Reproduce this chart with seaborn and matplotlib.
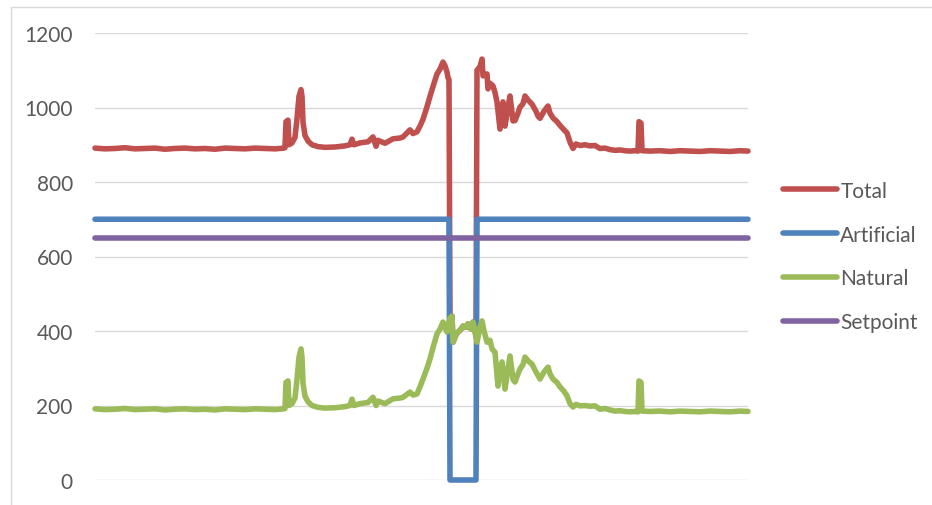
import pandas as pd
import matplotlib
matplotlib.use("Agg")
import matplotlib.pyplot as plt
import matplotlib.patches as patches
import seaborn as sns

# data (x = sample index)
natural_t = [0, 10, 20, 30, 40, 50, 60, 70, 80, 90, 100, 110, 120, 130, 140, 150, 160, 170, 180, 189,
             190, 191, 193, 194, 197, 200, 202, 204, 206, 207, 208, 210, 213, 217, 223, 230, 240, 250, 255, 257,
             259, 265, 273, 278, 281, 283, 290, 298, 305, 308, 315, 318, 322, 325, 328, 332, 335, 339, 342, 345,
             348, 350, 352, 355, 357, 358, 361, 363, 366, 368, 371, 373, 375, 377, 378, 380, 382, 385, 387, 389,
             392, 395, 397, 400, 403, 405, 407, 409, 410, 413, 415, 418, 420, 423, 425, 428, 430, 433, 437, 441,
             445, 449, 453, 455, 458, 462, 465, 469, 472, 475, 478, 481, 485, 490, 495, 500, 505, 510, 515, 520,
             525, 530, 535, 540, 543, 544, 546, 547, 555, 565, 575, 585, 595, 605, 615, 625, 635, 645, 653]
natural = [191, 189, 190, 192, 189, 190, 191, 188, 190, 191, 189, 190, 188, 191, 190, 189, 191, 190, 189, 191,
           192, 262, 266, 200, 205, 220, 270, 330, 352, 330, 260, 225, 210, 200, 195, 193, 194, 197, 200, 217,
           200, 205, 208, 222, 200, 212, 205, 218, 220, 222, 236, 228, 231, 250, 271, 300, 325, 365, 392, 405,
           424, 410, 397, 435, 440, 370, 390, 397, 405, 413, 410, 419, 408, 405, 424, 400, 370, 410, 427, 400,
           370, 375, 352, 343, 252, 300, 317, 270, 244, 300, 333, 270, 263, 285, 298, 310, 330, 320, 311, 290,
           271, 290, 303, 285, 271, 262, 250, 238, 226, 205, 196, 203, 199, 200, 198, 199, 190, 192, 188, 185,
           186, 184, 183, 184, 183, 266, 262, 185, 184, 185, 183, 185, 184, 183, 185, 184, 183, 185, 184]

total_t = [0, 10, 20, 30, 40, 50, 60, 70, 80, 90, 100, 110, 120, 130, 140, 150, 160, 170, 180, 189,
           190, 191, 193, 194, 197, 200, 202, 204, 206, 207, 208, 210, 213, 217, 223, 230, 240, 250, 255, 257,
           259, 265, 273, 278, 281, 283, 290, 298, 305, 308, 315, 318, 322, 325, 328, 332, 335, 339, 342, 345,
           348, 350, 352, 353, 354, 355, 357, 358, 361, 363, 366, 368, 371, 373, 375, 377, 378, 380, 381, 382,
           385, 387, 388, 392, 393, 395, 398, 400, 402, 405, 408, 410, 413, 415, 418, 420, 423, 425, 428, 430,
           433, 437, 441, 443, 445, 449, 453, 455, 458, 462, 465, 469, 472, 475, 478, 481, 485, 490, 495, 500,
           505, 510, 515, 520, 525, 530, 535, 540, 543, 544, 546, 547, 555, 565, 575, 585, 595, 605, 615, 625,
           635, 645, 653]
total = [891, 889, 890, 892, 889, 890, 891, 888, 890, 891, 889, 890, 888, 891, 890, 889, 891, 890, 889, 891,
         892, 962, 966, 900, 905, 920, 970, 1030, 1048, 1030, 960, 925, 910, 900, 895, 893, 894, 897, 900, 915,
         900, 905, 908, 921, 896, 912, 904, 916, 918, 921, 940, 930, 935, 950, 968, 1002, 1030, 1065, 1090, 1103,
         1122, 1112, 1095, 1080, 1075, 435, 440, 370, 390, 397, 405, 413, 410, 419, 408, 405, 424, 400, 385, 1100,
         1110, 1130, 1085, 1090, 1050, 1065, 1058, 1040, 1015, 942, 1015, 950, 1000, 1031, 964, 965, 985, 1001, 1010, 1031,
         1020, 1009, 990, 977, 971, 990, 1004, 985, 972, 962, 952, 940, 932, 907, 890, 902, 898, 900, 897, 898,
         890, 891, 887, 885, 886, 884, 883, 884, 883, 962, 958, 884, 883, 884, 882, 884, 883, 882, 884, 883,
         882, 884, 883]

artificial_t = [0, 354, 355, 381, 382, 653]
artificial = [700, 700, 0, 0, 700, 700]

setpoint_t = [0, 653]
setpoint = [650, 650]

series_names = ["Total", "Artificial", "Natural", "Setpoint"]
colors = ["#C0504D", "#4F81BD", "#9BBB59", "#8064A2"]

frames = []
for name, t, v in [("Total", total_t, total), ("Artificial", artificial_t, artificial),
                   ("Natural", natural_t, natural), ("Setpoint", setpoint_t, setpoint)]:
    assert len(t) == len(v), name
    frames.append(pd.DataFrame({"t": t, "value": v, "series": name}))
df = pd.concat(frames, ignore_index=True)

sns.set_style("white")
plt.rcParams["font.family"] = ["Lato", "DejaVu Sans"]

fig = plt.figure(figsize=(9.32, 5.06), dpi=100)
ax = fig.add_axes([95 / 932, 25 / 506, 653 / 932, 447 / 506])

# chart area border
fig.patches.append(patches.Rectangle((10.5 / 932, -0.1), 1.2, 1.1 - 7.5 / 506,
                                     transform=fig.transFigure, fill=False,
                                     edgecolor="#D9D9D9", linewidth=1))

lw = 4.0
sns.lineplot(data=df, x="t", y="value", hue="series", hue_order=series_names,
             palette=colors, estimator=None, sort=False, linewidth=lw, ax=ax)
for line in ax.get_lines():
    line.set_clip_on(False)
    line.set_solid_capstyle("round")
    line.set_solid_joinstyle("round")

ax.set_xlim(0, 653)
ax.set_ylim(0, 1200)
ax.set_yticks(range(0, 1201, 200))
ax.set_xticks([])
ax.yaxis.grid(True, color="#D9D9D9", linewidth=1)
ax.set_axisbelow(True)
for s in ax.spines.values():
    s.set_visible(False)
ax.tick_params(axis="y", length=0, pad=16, labelsize=15, labelcolor="#595959")
ax.set_xlabel("")
ax.set_ylabel("")

handles, labels = ax.get_legend_handles_labels()
ax.legend_.remove()
for h in handles:
    h.set_linewidth(lw)
    h.set_solid_capstyle("round")
fig.legend(handles, labels, loc="center left", bbox_to_anchor=(783 / 932, 1 - 257.5 / 506),
           bbox_transform=fig.transFigure, frameon=False, fontsize=15, labelcolor="#595959",
           handlelength=2.6, handletextpad=0.15, labelspacing=1.15, borderpad=0, borderaxespad=0)

fig.savefig("out.png", dpi=100)
